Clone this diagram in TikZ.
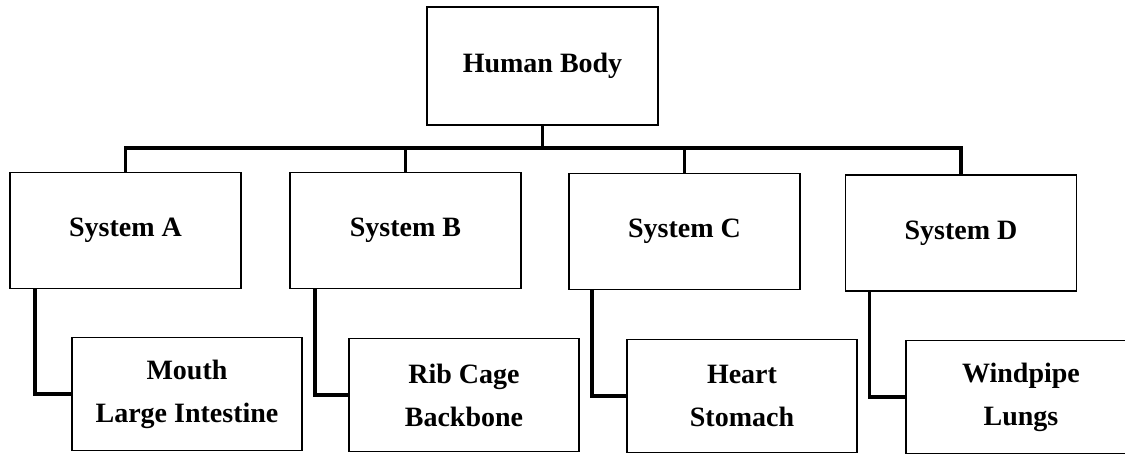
\documentclass[tikz,border=0pt]{standalone}
\usepackage{fontspec}
\setmainfont{Liberation Serif}
\begin{document}
\begin{tikzpicture}[x=1pt,y=-1pt,
  box/.style={draw=black, line width=1.8pt, fill=white, inner sep=0pt,
    font=\bfseries\fontsize{28}{43}\selectfont, align=center},
  sysbox/.style={box, minimum width=231pt, minimum height=116pt},
  subbox/.style={box, minimum width=230pt, minimum height=113pt},
  topbox/.style={box, minimum width=231pt, minimum height=118pt},
  link/.style={draw=black, line width=3.6pt}]
\useasboundingbox (0,0) rectangle (1125,453);
\node[topbox] (hb) at (542.5,66) {Human Body};
\node[sysbox] (a) at (125.5,230.5) {System A};
\node[sysbox] (b) at (405.5,230.5) {System B};
\node[sysbox] (c) at (684.5,231.5) {System C};
\node[sysbox] (d) at (961,233) {System D};
\coordinate (bar) at (542.5,148);
\draw[link] (hb.south) -- (bar);
\draw[link, line cap=rect] (a.north |- bar) -- (d.north |- bar);
\draw[link] (a.north |- bar) -- (a.north);
\draw[link] (b.north |- bar) -- (b.north);
\draw[link] (c.north |- bar) -- (c.north);
\draw[link] (d.north |- bar) -- (d.north);
\node[subbox] (sa) at (187,394) {Mouth\\Large Intestine};
\node[subbox] (sb) at (464,395) {Rib Cage\\Backbone};
\node[subbox] (sc) at (742,396) {Heart\\Stomach};
\node[subbox] (sd) at (1021,397) {Windpipe\\Lungs};
\coordinate (ca) at ([xshift=26pt]a.south west);
\coordinate (cb) at ([xshift=26pt]b.south west);
\coordinate (cc) at ([xshift=24pt]c.south west);
\coordinate (cd) at ([xshift=25pt]d.south west);
\draw[link] (ca) |- (sa.west);
\draw[link] (cb) |- (sb.west);
\draw[link] (cc) |- (sc.west);
\draw[link] (cd) |- (sd.west);
\end{tikzpicture}
\end{document}
